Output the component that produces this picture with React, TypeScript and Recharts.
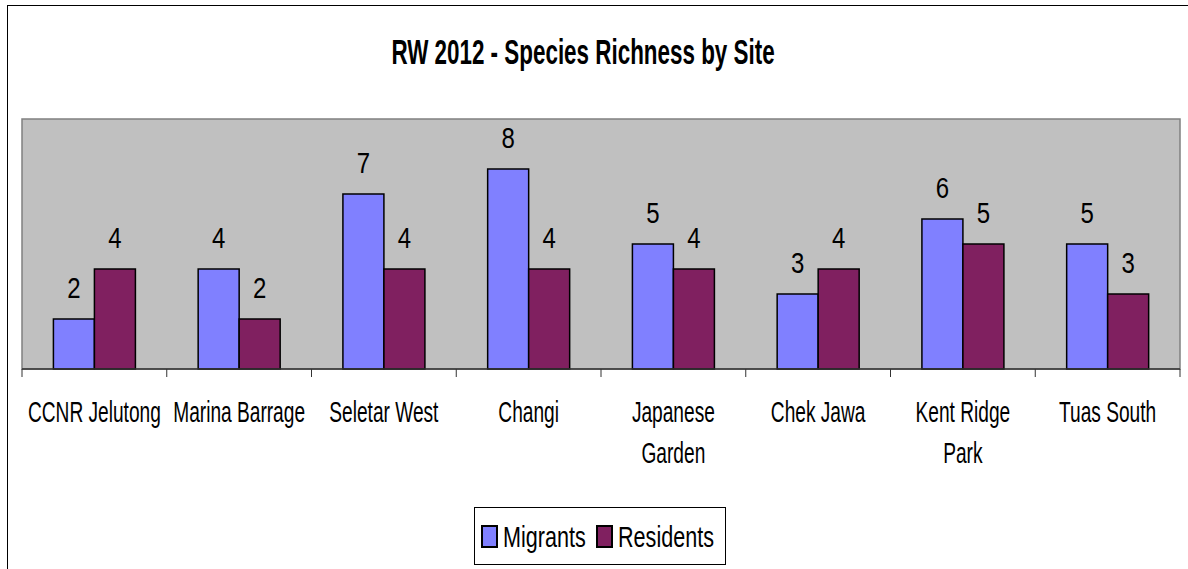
import React from "react";
import {
  BarChart,
  Bar,
  XAxis,
  YAxis,
  ReferenceArea,
  LabelList,
  Legend,
} from "recharts";

const sites = [
  "CCNR Jelutong",
  "Marina Barrage",
  "Seletar West",
  "Changi",
  "Japanese Garden",
  "Chek Jawa",
  "Kent Ridge Park",
  "Tuas South",
];
const migrants = [2, 4, 7, 8, 5, 3, 6, 5];
const residents = [4, 2, 4, 4, 4, 4, 5, 3];

const data = sites.map((site, i) => ({
  site,
  Migrants: migrants[i],
  Residents: residents[i],
}));

const FONT = "'Liberation Sans', Arial, sans-serif";

// the original text is squeezed horizontally, so scale it
function Squeezed({ x, y, sx, size, anchor = "middle", bold = false, children }: any) {
  return (
    <text
      transform={`translate(${x},${y}) scale(${sx},1)`}
      textAnchor={anchor}
      fontFamily={FONT}
      fontSize={size}
      fontWeight={bold ? "bold" : "normal"}
      fill="#000"
    >
      {children}
    </text>
  );
}

function splitLabel(name: string) {
  if (name.length <= 14) return [name];
  const cut = name.lastIndexOf(" ");
  return [name.slice(0, cut), name.slice(cut + 1)];
}

function SiteTick(props: any) {
  const { x, y, payload, index, visibleTicksCount, width } = props;
  const band = width / visibleTicksCount;
  const lines = splitLabel(payload.value);
  return (
    <g>
      <line x1={x - band / 2} x2={x - band / 2} y1={y} y2={y + 8} stroke="#333" />
      {index === visibleTicksCount - 1 && (
        <line x1={x + band / 2} x2={x + band / 2} y1={y} y2={y + 8} stroke="#333" />
      )}
      {lines.map((l, i) => (
        <Squeezed key={i} x={x} y={y + 53 + i * 41} sx={0.66} size={29}>
          {l}
        </Squeezed>
      ))}
    </g>
  );
}

function ValueLabel(props: any) {
  const { x, y, width, value } = props;
  return (
    <Squeezed x={x + width / 2} y={y - 21} sx={0.8} size={30}>
      {value}
    </Squeezed>
  );
}

function LegendBox({ payload }: any) {
  const items = payload || [];
  const offsets = [8, 123];
  return (
    <svg width={252} height={58} style={{ display: "block" }}>
      <rect x={0.5} y={0.5} width={251} height={57} fill="#fff" stroke="#000" />
      {items.map((it: any, i: number) => (
        <g key={it.value}>
          <rect
            x={offsets[i]}
            y={19}
            width={15}
            height={21}
            fill={it.color}
            stroke="#000"
            strokeWidth={2}
          />
          <Squeezed x={offsets[i] + 21} y={40} sx={0.72} size={30} anchor="start">
            {it.value}
          </Squeezed>
        </g>
      ))}
    </svg>
  );
}

export default function App() {
  return (
    <div
      style={{
        position: "absolute",
        left: 0,
        top: 0,
        width: 1188,
        height: 569,
        background: "#fff",
        overflow: "hidden",
      }}
    >
      <div
        style={{
          position: "absolute",
          left: 6.5,
          top: 4.5,
          width: 1400,
          height: 800,
          borderLeft: "1.5px solid #000",
          borderTop: "1.5px solid #000",
        }}
      />
      <svg
        width={1188}
        height={90}
        style={{ position: "absolute", left: 0, top: 0 }}
      >
        <Squeezed x={583} y={64} sx={0.65} size={34.5} bold>
          RW 2012 - Species Richness by Site
        </Squeezed>
      </svg>
      <div style={{ position: "absolute", left: 0, top: 0 }}>
        <BarChart
          width={1188}
          height={569}
          data={data}
          margin={{ top: 119, right: 8, left: 22, bottom: 42 }}
          barGap={0}
          barCategoryGap="21.7%"
        >
          <ReferenceArea
            y1={0}
            y2={10}
            fill="#C0C0C0"
            fillOpacity={1}
            stroke="#808080"
            strokeWidth={1.5}
          />
          <XAxis
            dataKey="site"
            interval={0}
            height={100}
            tickLine={false}
            tickSize={0}
            tickMargin={0}
            axisLine={{ stroke: "#333", strokeWidth: 1.5 }}
            tick={<SiteTick />}
          />
          <YAxis hide domain={[0, 10]} />
          <Legend
            verticalAlign="bottom"
            content={<LegendBox />}
            wrapperStyle={{ left: 474, top: 507, width: 252, height: 58, bottom: "auto" }}
          />
          <Bar
            dataKey="Migrants"
            fill="#8080FF"
            stroke="#000"
            strokeWidth={1.5}
            isAnimationActive={false}
          >
            <LabelList dataKey="Migrants" content={<ValueLabel />} />
          </Bar>
          <Bar
            dataKey="Residents"
            fill="#802060"
            stroke="#000"
            strokeWidth={1.5}
            isAnimationActive={false}
          >
            <LabelList dataKey="Residents" content={<ValueLabel />} />
          </Bar>
        </BarChart>
      </div>
    </div>
  );
}
